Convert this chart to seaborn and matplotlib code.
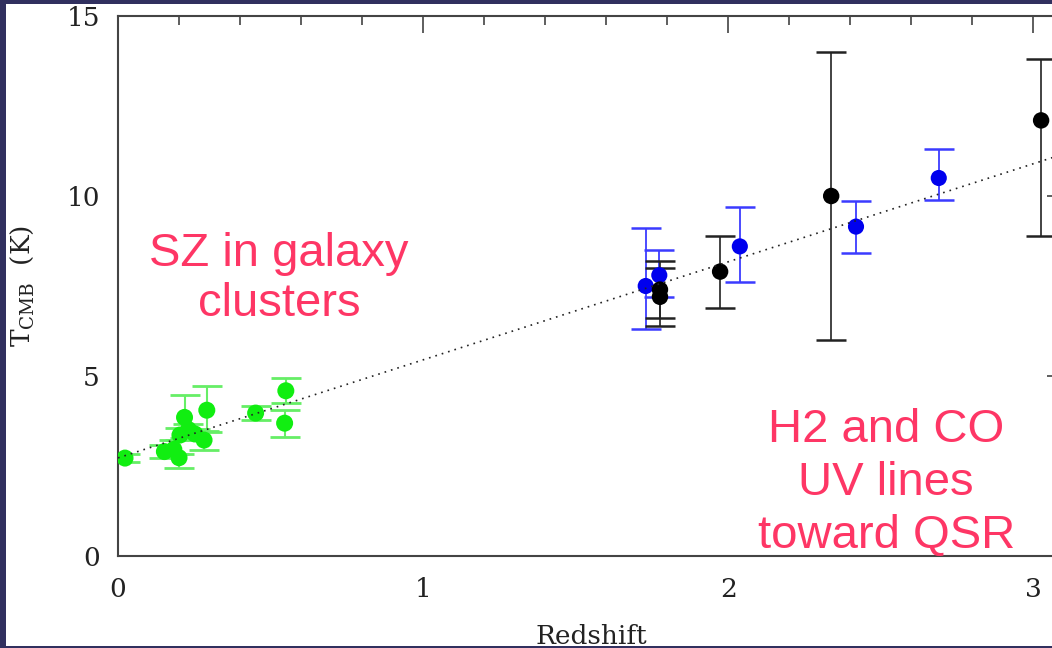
import matplotlib
matplotlib.use("Agg")
import matplotlib.pyplot as plt
from matplotlib.patches import Rectangle
from matplotlib.ticker import MultipleLocator
import seaborn as sns
import pandas as pd
import numpy as np

# ---- data ----
# SZ in galaxy clusters (green)
sz_z    = [0.023, 0.152, 0.183, 0.200, 0.203, 0.218, 0.231, 0.252, 0.282, 0.291, 0.451, 0.546, 0.550]
sz_T    = [2.72, 2.90, 2.96, 2.73, 3.36, 3.85, 3.51, 3.39, 3.22, 4.05, 3.97, 3.69, 4.59]
sz_up   = [0.11, 0.17, 0.27, 0.10, 0.20, 0.62, 0.17, 0.15, 0.25, 0.66, 0.19, 0.37, 0.36]
sz_lo   = [0.11, 0.17, 0.12, 0.28, 0.13, 0.58, 0.15, 0.15, 0.28, 0.60, 0.19, 0.38, 0.35]

# CO UV lines toward QSO (blue)
co_z    = [1.7293, 1.7738, 2.0377, 2.4184, 2.6896]
co_T    = [7.5, 7.8, 8.6, 9.15, 10.5]
co_up   = [1.6, 0.7, 1.1, 0.70, 0.8]
co_lo   = [1.2, 0.6, 1.0, 0.72, 0.6]

# fine-structure / H2 (black)
fs_z    = [1.776, 1.776, 1.9731, 2.3371, 3.025]
fs_T    = [7.4, 7.2, 7.9, 10.0, 12.1]
fs_up   = [0.8, 0.8, 1.0, 4.0, 1.7]
fs_lo   = [0.8, 0.8, 1.0, 4.0, 3.2]

# dotted reference line endpoints
line_z  = [0.0, 3.1]
line_T  = [2.725, 11.17]

x_ticks = [0, 1, 2, 3]
y_ticks = [0, 5, 10, 15]

# ---- figure ----
sns.set_theme(style="white")
plt.rcParams["mathtext.fontset"] = "dejavuserif"
serif = ["DejaVu Serif"]

fig = plt.figure(figsize=(10.52, 6.48), dpi=100, facecolor="white")
W, H = 1052, 648
ax = fig.add_axes([118 / W, 92 / H, 946 / W, 540 / H])
ax.set_facecolor("white")

df_sz = pd.DataFrame({"z": sz_z, "T": sz_T})
df_co = pd.DataFrame({"z": co_z, "T": co_T})
df_fs = pd.DataFrame({"z": fs_z, "T": fs_T})

cap = 11
ax.errorbar(sz_z, sz_T, yerr=[sz_lo, sz_up], fmt="none", ecolor="#66ee66",
            elinewidth=1.5, capsize=cap, capthick=2.0, zorder=2)
ax.errorbar(co_z, co_T, yerr=[co_lo, co_up], fmt="none", ecolor="#3b3bff",
            elinewidth=1.3, capsize=cap, capthick=1.8, zorder=2)
ax.errorbar(fs_z, fs_T, yerr=[fs_lo, fs_up], fmt="none", ecolor="#222222",
            elinewidth=1.2, capsize=cap, capthick=1.8, zorder=2)

sns.scatterplot(data=df_sz, x="z", y="T", ax=ax, color="#11ee11", s=150,
                edgecolor="none", linewidth=0, zorder=3)
sns.scatterplot(data=df_co, x="z", y="T", ax=ax, color="#0000ee", s=135,
                edgecolor="none", linewidth=0, zorder=3)
sns.scatterplot(data=df_fs, x="z", y="T", ax=ax, color="black", s=140,
                edgecolor="none", linewidth=0, zorder=3)

sns.lineplot(x=line_z, y=line_T, ax=ax, color="#222222", lw=1.2,
             linestyle=(0, (1, 3.0)), zorder=4)

ax.set_xlim(0, 3.1)
ax.set_ylim(0, 15)
ax.set_xticks(x_ticks)
ax.set_yticks(y_ticks)
ax.set_xticklabels([str(t) for t in x_ticks], family=serif, fontsize=19)
ax.set_yticklabels([str(t) for t in y_ticks], family=serif, fontsize=19)
ax.xaxis.set_minor_locator(MultipleLocator(0.2))
ax.yaxis.set_minor_locator(MultipleLocator(1))
ax.tick_params(which="both", direction="in", top=True, right=True,
               color="#333333", width=1.1)
ax.tick_params(which="major", length=12)
ax.tick_params(which="minor", length=6.5)
ax.tick_params(axis="x", which="major", pad=15, labelcolor="#222222")
ax.tick_params(axis="y", which="major", pad=13, labelcolor="#222222")
for s in ax.spines.values():
    s.set_color("#444444")
    s.set_linewidth(1.5)

ax.set_xlabel("Redshift", family=serif, fontsize=19, color="#222222")
ax.set_ylabel(r"T$_{\mathrm{CMB}}$  (K)", family=serif, fontsize=19, color="#222222")
ax.xaxis.set_label_coords(0.5, -68 / 540)
ax.xaxis.label.set_va("top")
ax.yaxis.set_label_coords(-82 / 946, 0.5)

pink = "#fe3665"
tf = dict(family=["Liberation Sans", "DejaVu Sans"], fontsize=34, color=pink,
          ha="center", va="baseline")
fig.text(279 / W, 1 - 266.5 / H, "SZ in galaxy", **tf)
fig.text(279 / W, 1 - 316 / H, "clusters", **tf)
fig.text(886 / W, 1 - 441.5 / H, "H2 and CO", **tf)
fig.text(886 / W, 1 - 495 / H, "UV lines", **tf)
fig.text(887 / W, 1 - 548 / H, "toward QSR", **tf)

navy = "#31305f"
for (x0, y0, w, h) in [(0, 0, 6, H), (0, H - 3.5, W, 3.5), (0, 0, W, 2.5)]:
    fig.add_artist(Rectangle((x0 / W, y0 / H), w / W, h / H, transform=fig.transFigure,
                             facecolor=navy, edgecolor="none", zorder=20))

fig.savefig("out.png", dpi=100, facecolor="white")
